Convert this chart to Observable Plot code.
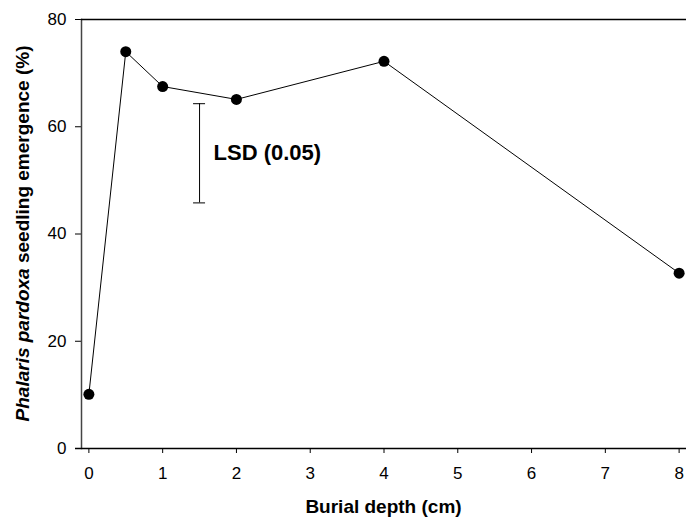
<!DOCTYPE html>
<html><head><meta charset="utf-8">
<script src="https://cdn.jsdelivr.net/npm/d3@7"></script>
<script src="https://cdn.jsdelivr.net/npm/@observablehq/plot@0.6"></script>
<style>body{margin:0;background:#fff} svg{display:block}</style>
</head><body><div id="chart"></div>
<script>
const depth = [0, 0.5, 1, 2, 4, 8];
const emergence = [10.1, 74, 67.5, 65.1, 72.2, 32.7];
const xTicks = [0, 1, 2, 3, 4, 5, 6, 7, 8];
const yTicks = [0, 20, 40, 60, 80];
const lsdX = 1.5;
const lsdLow = 45.8, lsdHigh = 64.3;
const lsdLabel = "LSD (0.05)";
const xLabel = "Burial depth (cm)";
const yLabelItalic = "Phalaris pardoxa";
const yLabelRest = " seedling emergence (%)";

const data = depth.map((d, i) => ({depth: d, emergence: emergence[i]}));
const W = 686, H = 518, mL = 81, mR = 0, mT = 19, mB = 70;
const font = "'Liberation Sans', Arial, sans-serif";
const chart = Plot.plot({
  width: W, height: H, marginLeft: mL, marginRight: mR, marginTop: mT, marginBottom: mB,
  style: {fontFamily: font, fontSize: "17px", background: "white", color: "black"},
  x: {domain: [-0.1, 8.1]},
  y: {domain: [0, 80]},
  marks: [
    Plot.axisX({ticks: xTicks, tickSize: 5, tickPadding: 13, label: null, fontSize: 17, tickFormat: d => String(d)}),
    Plot.axisY({ticks: yTicks, tickSize: 6, tickPadding: 9, label: null, fontSize: 17}),
    Plot.frame({anchor: "left", stroke: "#444", strokeWidth: 1.5}),
    Plot.ruleY([80], {stroke: "black", strokeWidth: 1.5}),
    Plot.ruleY([0], {stroke: "black", strokeWidth: 1.5, insetLeft: -6}),
    Plot.line(data, {x: "depth", y: "emergence", stroke: "black", strokeWidth: 1}),
    Plot.dot(data, {x: "depth", y: "emergence", r: 5.5, fill: "black"}),
    Plot.ruleX([lsdX], {y1: lsdLow, y2: lsdHigh, stroke: "black", strokeWidth: 1}),
    Plot.ruleY([lsdLow, lsdHigh], {x1: lsdX, x2: lsdX, insetLeft: -6, insetRight: -6, stroke: "black", strokeWidth: 1}),
    Plot.text([lsdLabel], {x: lsdX, y: (lsdLow + lsdHigh) / 2, text: d => d, textAnchor: "start", dx: 14, fontSize: 22, fontWeight: "bold"})
  ]
});
const svg = d3.select(chart);
svg.append("text")
  .attr("x", (mL + W - mR) / 2).attr("y", 513)
  .attr("text-anchor", "middle")
  .attr("font-family", font).attr("font-size", 19).attr("font-weight", "bold")
  .attr("fill", "black")
  .text(xLabel);
const yl = svg.append("text")
  .attr("transform", `translate(28.5,${(mT + H - mB) / 2}) rotate(-90)`)
  .attr("text-anchor", "middle")
  .attr("font-family", font).attr("font-size", 19).attr("font-weight", "bold")
  .attr("fill", "black")
  .style("white-space", "pre");
yl.append("tspan").attr("font-style", "italic").text(yLabelItalic);
yl.append("tspan").text(yLabelRest);
document.getElementById("chart").appendChild(chart);
</script>
</body></html>
